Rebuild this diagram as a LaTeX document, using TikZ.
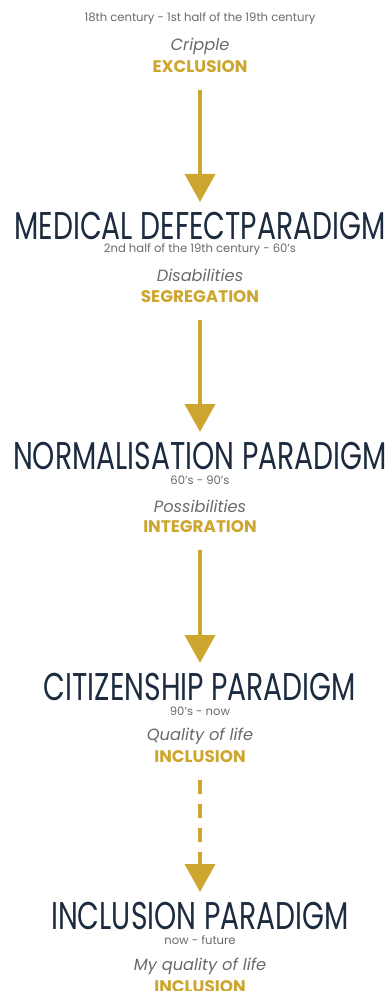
\documentclass[tikz,border=0pt]{standalone}
\usepackage{fontspec}
\setmainfont{Poppins}
\newfontfamily\titlefont[FakeStretch=0.73]{Poppins}
\usetikzlibrary{arrows.meta}

\definecolor{gold}{HTML}{CDA630}
\definecolor{navy}{HTML}{1C2B3F}
\definecolor{greytext}{HTML}{6A6A6A}

\tikzset{
  period/.style={inner sep=0pt, text=greytext, font=\fontsize{8.7}{10}\selectfont},
  term/.style={inner sep=0pt, text=greytext, font=\fontsize{12.2}{14}\selectfont\itshape},
  stage/.style={inner sep=0pt, text=gold, font=\fontsize{12.6}{14}\selectfont\bfseries},
  paradigm/.style={inner sep=0pt, text=navy, font=\titlefont\fontsize{29}{31}\selectfont},
  flow/.style={draw=gold, line width=3pt, -{Triangle[width=22.5pt,length=21pt]},
    shorten <=17pt, shorten >=18pt},
}

\begin{document}
\begin{tikzpicture}[x=0.75pt,y=-0.75pt]
\useasboundingbox (0,0) rectangle (390,991);
\clip (0,0) rectangle (390,991);
%
\node (p0) at (200,19) [period] {18th century - 1st half of the 19th century};
\node (t0) at (200,46) [term] {Cripple};
\node (s0) at (200,67) [stage] {EXCLUSION};
%
\node (medical) at (200,226) [paradigm] {MEDICAL DEFECTPARADIGM};
\node (p1) at (200,250) [period] {2nd half of the 19th century - 60's};
\node (t1) at (200,275) [term] {Disabilities};
\node (s1) at (200,297) [stage] {SEGREGATION};
%
\node (normal) at (200,456) [paradigm] {NORMALISATION PARADIGM};
\node (p2) at (200,480) [period] {60's - 90's};
\node (t2) at (200,506) [term] {Possibilities};
\node (s2) at (200,527) [stage] {INTEGRATION};
%
\node (citizen) at (200,687) [paradigm] {CITIZENSHIP PARADIGM};
\node (p3) at (200,711) [period] {90's - now};
\node (t3) at (200,736) [term] {Quality of life};
\node (s3) at (200,757) [stage] {INCLUSION};
%
\node (inclusion) at (200,916) [paradigm] {INCLUSION PARADIGM};
\node (p4) at (200,940) [period] {now - future};
\node (t4) at (200,966) [term] {My quality of life};
\node (s4) at (200,987) [stage] {INCLUSION};
%
\draw [flow] (s0.center) -- (medical.center);
\draw [flow] (s1.center) -- (normal.center);
\draw [flow] (s2.center) -- (citizen.center);
\draw [flow, dash pattern=on 10.5pt off 7.5pt] (s3.center) -- (inclusion.center);
\end{tikzpicture}
\end{document}
